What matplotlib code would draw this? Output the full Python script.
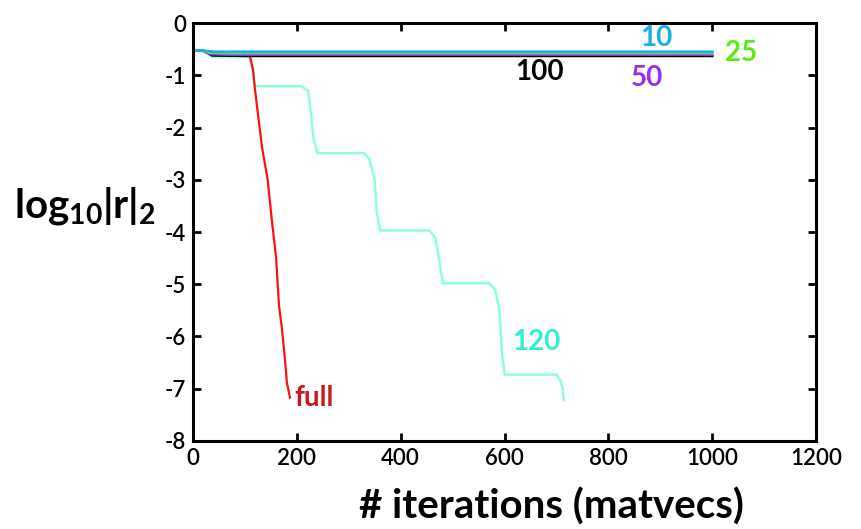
import matplotlib.pyplot as plt

plt.rcParams['font.family'] = ['Lato', 'DejaVu Sans']
plt.rcParams['mathtext.fontset'] = 'custom'
plt.rcParams['mathtext.rm'] = 'Lato'
plt.rcParams['mathtext.bf'] = 'Lato:bold'
plt.rcParams['axes.unicode_minus'] = False

# restarted runs: residual history per restart length (matvecs, log10 |r|)
iters_10 = [0, 20, 40, 1000]
res_10 = [-0.52, -0.53, -0.55, -0.55]

iters_25 = [0, 20, 30, 60, 1000]
res_25 = [-0.52, -0.53, -0.57, -0.58, -0.58]

iters_50 = [0, 20, 35, 80, 1000]
res_50 = [-0.52, -0.53, -0.60, -0.61, -0.61]

iters_100 = [0, 20, 37, 110, 1000]
res_100 = [-0.52, -0.53, -0.62, -0.63, -0.63]

iters_120 = [0, 2, 27, 37, 108, 113, 117, 120, 210, 222, 226, 232, 240,
             330, 340, 350, 354, 360, 455, 466, 472, 478, 482, 570, 582,
             590, 595, 600, 700, 708, 712, 714]
res_120 = [-0.35, -0.52, -0.54, -0.65, -0.65, -0.8, -1.1, -1.21, -1.21,
           -1.3, -1.6, -2.2, -2.49, -2.49, -2.6, -3.0, -3.6, -3.97, -3.97,
           -4.1, -4.4, -4.8, -4.98, -4.98, -5.1, -5.5, -6.3, -6.73, -6.73,
           -6.85, -7.0, -7.22]

iters_full = [110, 116, 119, 125, 133, 144, 152, 160, 166, 171, 176, 181,
              187]
res_full = [-0.64, -0.9, -1.22, -1.72, -2.37, -3.0, -3.77, -4.47, -5.43,
            -5.81, -6.3, -6.88, -7.17]

fig = plt.figure(figsize=(8.61, 5.29), dpi=100)
ax = fig.add_axes([0.224, 0.1664, 0.724, 0.79])

ax.plot(iters_120, res_120, color='#8CFFDC', lw=1.8)
ax.plot(iters_full, res_full, color='#FF1010', lw=1.6)
ax.plot(iters_100, res_100, color='black', lw=1.8)
ax.plot(iters_50, res_50, color='#9A2CF0', lw=1.6)
ax.plot(iters_25, res_25, color='#66F020', lw=1.6)
ax.plot(iters_10, res_10, color='#1AAEF0', lw=2.0)

lbl = dict(fontsize=20, fontweight='bold', ha='left', va='center')
ax.text(862, -0.28, '10', color='#1AAEF0', **lbl)
ax.text(1025, -0.57, '25', color='#55EE11', **lbl)
ax.text(843, -1.05, '50', color='#9A2CF0', **lbl)
ax.text(620, -0.93, '100', color='black', **lbl)
ax.text(615, -6.1, '120', color='#2FF0D2', **lbl)
ax.text(196, -7.17, 'full', color='#C81A1A', **lbl)

ax.set_xlim(0, 1200)
ax.set_ylim(-8, 0)
ax.set_xticks(range(0, 1201, 200))
ax.set_yticks(range(-8, 1))
ax.tick_params(direction='in', length=6, width=2, labelsize=16,
               top=True, right=True, pad=5)
for t in ax.get_xticklabels() + ax.get_yticklabels():
    t.set_fontweight('semibold')
for spine in ax.spines.values():
    spine.set_linewidth(2.2)

fig.text(0.641, 0.042, '# iterations (matvecs)', fontsize=29,
         fontweight='bold', ha='center', va='center')
fig.text(0.016, 0.61, r'$\mathbf{log_{10}|r|_2}$', fontsize=29,
         ha='left', va='center')

fig.savefig('out.png', dpi=100)
